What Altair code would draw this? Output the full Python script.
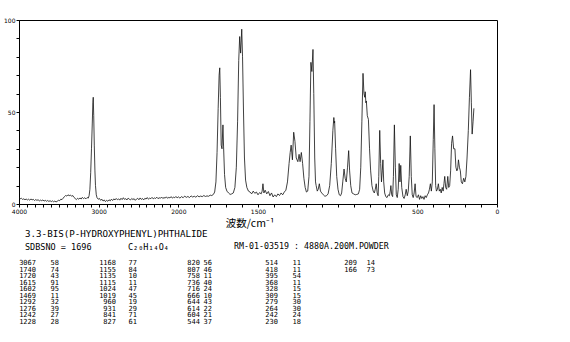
import altair as alt
import pandas as pd

# ---------------- data ----------------
wavenumber = [
    4000, 3985, 3970, 3955, 3940, 3925, 3910, 3895, 3880, 3865, 3850, 3835, 3820, 3805, 3790, 3775,
    3760, 3745, 3730, 3715, 3700, 3685, 3670, 3655, 3640, 3625, 3610, 3595, 3580, 3565, 3550, 3535,
    3520, 3505, 3490, 3475, 3460, 3445, 3430, 3415, 3400, 3385, 3370, 3355, 3340, 3325, 3310, 3295,
    3280, 3265, 3250, 3235, 3220, 3205, 3190, 3175, 3160, 3145, 3130, 3120, 3110, 3100, 3090, 3080,
    3073, 3068, 3062, 3055, 3047, 3040, 3030, 3020, 3005, 2990, 2975, 2960, 2945, 2930, 2915, 2900,
    2885, 2870, 2855, 2840, 2825, 2810, 2795, 2780, 2765, 2750, 2735, 2720, 2705, 2690, 2675, 2660,
    2645, 2630, 2615, 2600, 2585, 2570, 2555, 2540, 2525, 2510, 2495, 2480, 2465, 2450, 2435, 2420,
    2405, 2390, 2375, 2360, 2345, 2330, 2315, 2300, 2285, 2270, 2255, 2240, 2225, 2210, 2195, 2180,
    2165, 2150, 2135, 2120, 2105, 2090, 2075, 2060, 2045, 2030, 2015, 2000,
    1990, 1980, 1970, 1960, 1950, 1940, 1930, 1920, 1910, 1900, 1890, 1880, 1870, 1860, 1850, 1840,
    1830, 1820, 1810, 1800, 1790, 1780, 1772, 1764, 1757, 1750, 1744, 1740, 1736, 1731, 1726, 1720,
    1716, 1710, 1703, 1695, 1685, 1675, 1665, 1655, 1645, 1636, 1628, 1621, 1615, 1609, 1602, 1597,
    1591, 1585, 1578, 1570, 1560, 1550, 1540, 1530, 1520, 1510, 1500, 1490, 1480, 1474, 1469, 1463,
    1455, 1445, 1435, 1425, 1415, 1405, 1395, 1385, 1375, 1365, 1355, 1345, 1335, 1325, 1315, 1305,
    1298, 1292, 1284, 1276, 1268, 1260, 1250, 1242, 1236, 1228, 1220, 1212, 1204, 1196, 1188, 1180,
    1174, 1168, 1162, 1155, 1150, 1144, 1139, 1135, 1128, 1122, 1115, 1108, 1100, 1090, 1080, 1070,
    1060, 1050, 1040, 1030, 1024, 1021, 1019, 1013, 1006, 998, 990, 982, 975, 968, 960, 953,
    946, 938, 931, 925, 918, 910, 900, 890, 880, 870, 862, 855, 848, 841, 835, 830,
    827, 823, 820, 814, 807, 800, 793, 785, 777, 770, 764, 758, 752, 746, 742, 736,
    730, 725, 720, 716, 711, 705, 698, 690, 682, 675, 670, 666, 661, 655, 650, 644,
    638, 632, 626, 620, 614, 609, 604, 598, 590, 583, 576, 570, 563, 557, 551, 544,
    538, 532, 526, 520, 514, 508, 500, 493, 486, 479, 472, 465, 458, 451, 444, 437,
    430, 424, 418, 412, 406, 400, 395, 390, 385, 380, 374, 368, 362, 356, 350, 344,
    338, 333, 328, 322, 316, 309, 303, 297, 291, 285, 279, 272, 264, 258, 252, 247,
    242, 236, 230, 224, 217, 209, 202, 195, 188, 180, 173, 166, 161, 156, 150, 145,
]
intensity = [
    3.4, 2.9, 3.1, 2.5, 2.8, 2.3, 2.7, 2.2, 2.6, 2.1, 2.7, 2.3, 2.5, 1.9, 2.4, 2.0,
    2.3, 1.7, 2.1, 1.8, 2.2, 1.6, 2.0, 1.5, 1.9, 1.4, 1.8, 1.3, 1.7, 1.2, 1.6, 1.1,
    1.5, 2.0, 1.8, 2.6, 2.4, 3.2, 4.0, 4.6, 4.3, 5.0, 4.5, 4.9, 4.2, 4.6, 3.6, 3.0,
    2.4, 3.1, 2.6, 3.3, 2.7, 3.6, 2.9, 3.4, 2.8, 3.5, 3.2, 4.5, 8.0, 17.0, 30.0, 44.0,
    55.0, 58.0, 48.0, 32.0, 18.0, 10.0, 5.0, 3.4, 2.6, 3.0, 2.0, 2.6, 1.6, 2.2, 1.3, 2.0,
    1.5, 2.3, 1.7, 2.6, 1.9, 2.8, 2.2, 3.0, 2.3, 2.8, 2.1, 3.1, 2.4, 3.4, 2.5, 2.9,
    2.2, 3.2, 2.6, 2.2, 3.0, 2.4, 2.9, 2.0, 2.7, 3.1, 2.3, 3.3, 2.5, 3.0, 2.2, 3.1,
    2.7, 3.5, 2.6, 3.2, 2.9, 3.6, 2.8, 3.3, 3.0, 3.7, 2.9, 3.4, 3.1, 3.8, 3.0, 3.5,
    3.2, 3.9, 3.1, 3.6, 3.3, 4.0, 3.2, 3.7, 3.4, 4.1, 3.3, 3.9,
    3.2, 4.0, 3.4, 4.3, 3.6, 4.1, 3.5, 4.4, 3.8, 4.2, 3.7, 4.5, 3.9, 4.3, 4.0, 4.6,
    4.1, 4.4, 4.2, 4.8, 4.6, 5.2, 6.5, 12.0, 28.0, 52.0, 70.0, 74.0, 58.0, 32.0, 30.0, 43.0,
    31.0, 16.0, 9.0, 7.0, 6.0, 5.2, 5.5, 6.0, 9.0, 20.0, 45.0, 78.0, 91.0, 82.0, 95.0, 80.0,
    50.0, 25.0, 13.0, 9.0, 7.0, 6.5, 5.5, 7.0, 5.8, 6.5, 5.0, 6.2, 5.5, 7.0, 11.0, 6.0,
    7.5, 5.5, 6.8, 4.5, 6.0, 3.8, 5.0, 4.0, 5.5, 4.6, 6.0, 5.0, 6.5, 7.5, 12.0, 22.0,
    28.0, 32.0, 24.0, 39.0, 34.0, 25.0, 23.0, 27.0, 23.0, 28.0, 22.0, 14.0, 9.0, 6.5, 7.0, 15.0,
    45.0, 77.0, 72.0, 84.0, 60.0, 25.0, 12.0, 10.0, 7.0, 8.0, 11.0, 7.0, 6.0, 5.0, 4.2, 4.5,
    5.5, 10.0, 22.0, 40.0, 47.0, 44.0, 45.0, 30.0, 15.0, 8.0, 5.0, 4.5, 6.0, 12.0, 19.0, 14.0,
    12.0, 20.0, 29.0, 18.0, 10.0, 6.0, 5.5, 5.0, 5.2, 5.5, 8.0, 20.0, 45.0, 71.0, 60.0, 58.0,
    61.0, 55.0, 56.0, 48.0, 46.0, 30.0, 18.0, 10.0, 7.0, 6.0, 8.0, 11.0, 6.0, 4.5, 15.0, 40.0,
    22.0, 12.0, 18.0, 24.0, 12.0, 6.0, 4.0, 3.5, 5.0, 4.5, 7.0, 10.0, 5.0, 4.0, 15.0, 43.0,
    20.0, 5.0, 3.5, 8.0, 22.0, 12.0, 21.0, 9.0, 4.0, 3.0, 5.0, 8.0, 4.5, 7.0, 15.0, 37.0,
    15.0, 5.0, 3.5, 6.0, 11.0, 4.0, 3.5, 5.0, 2.5, 4.5, 3.0, 4.0, 2.5, 4.5, 3.5, 5.0,
    6.0, 8.0, 11.0, 7.0, 12.0, 35.0, 54.0, 30.0, 10.0, 7.0, 8.0, 11.0, 7.0, 8.0, 6.0, 9.0,
    7.0, 11.0, 15.0, 9.0, 8.0, 15.0, 9.0, 10.0, 18.0, 33.0, 37.0, 30.0, 30.0, 20.0, 18.0, 19.0,
    24.0, 20.0, 18.0, 12.0, 11.0, 14.0, 12.0, 15.0, 25.0, 40.0, 58.0, 73.0, 55.0, 38.0, 45.0, 52.0,
]

peak_wn = [
    [3067, 1740, 1720, 1615, 1602, 1469, 1292, 1276, 1242, 1228],
    [1168, 1155, 1135, 1115, 1024, 1019, 960, 931, 841, 827],
    [820, 807, 758, 736, 716, 666, 644, 614, 604, 544],
    [514, 418, 395, 368, 328, 309, 279, 264, 242, 230],
    [209, 166],
]
peak_int = [
    [58, 74, 43, 91, 95, 11, 32, 39, 27, 28],
    [77, 84, 10, 11, 47, 45, 19, 29, 71, 61],
    [56, 46, 11, 40, 24, 10, 43, 22, 21, 37],
    [11, 11, 54, 11, 15, 15, 30, 30, 24, 18],
    [14, 73],
]

x_minor = list(range(4000, -1, -100))
x_major = [4000, 3000, 2000, 1500, 500, 0]
y_ticks = [0, 10, 20, 30, 40, 50, 60, 70, 80, 90, 100]
y_major = [0, 50, 100]

compound = "3.3-BIS(P-HYDROXYPHENYL)PHTHALIDE"
sdbs_no = "SDBSNO = 1696"
formula = "C₂₀H₁₄O₄"
sample = "RM-01-03519 : 4880A.200M.POWDER"
x_title = "波数/cm⁻¹"

# ---------------- layout ----------------
W, H = 478, 184
LEFT, TOP = 19, 20
MONO = "DejaVu Sans Mono"

spec = pd.DataFrame({"wn": wavenumber, "I": intensity})

xs = alt.Scale(domain=[4000, 2000, 0], range=[0, W / 3, W], zero=False, nice=False)
ys = alt.Scale(domain=[0, 100], zero=False, nice=False)

x_expr = "indexof([" + ",".join(str(v) for v in x_major) + "], datum.value) >= 0 ? '' + datum.value : ''"
y_expr = "indexof([" + ",".join(str(v) for v in y_major) + "], datum.value) >= 0 ? '' + datum.value : ''"

line = alt.Chart(spec).mark_line(color="#111111", strokeWidth=0.8, interpolate="linear").encode(
    x=alt.X("wn:Q", scale=xs, sort=None,
            axis=alt.Axis(values=x_minor, labelExpr=x_expr, title=None, grid=False,
                          tickSize=3, tickColor="black", domainColor="black", labelFont="DejaVu Sans",
                          labelFontSize=6, labelColor="black", labelPadding=1, labelOverlap=False,
                          labelFlush=False)),
    y=alt.Y("I:Q", scale=ys,
            axis=alt.Axis(values=y_ticks, labelExpr=y_expr, title=None, grid=False,
                          tickSize=3, tickColor="black", domainColor="black", labelFont="DejaVu Sans",
                          labelFontSize=6, labelColor="black", labelPadding=1)),
    order=alt.Order("idx:Q"),
).transform_window(idx="row_number()")


def label(txt, x, y, size, font=MONO, align="left"):
    return alt.Chart(pd.DataFrame({"t": [txt]})).mark_text(
        align=align, baseline="middle", font=font, fontSize=size, color="black"
    ).encode(x=alt.value(x - LEFT), y=alt.value(y - TOP), text="t:N")


# peak table
wn_right = [36, 116, 200, 278, 357]
int_right = [59, 137, 212, 301, 375]
row0, dy = 263, 6.5
rows = []
for c, (wl, il) in enumerate(zip(peak_wn, peak_int)):
    for r, (w, i) in enumerate(zip(wl, il)):
        rows.append({"t": str(w), "px": wn_right[c] - LEFT, "py": row0 + r * dy - TOP})
        rows.append({"t": str(i), "px": int_right[c] - LEFT, "py": row0 + r * dy - TOP})
table = alt.Chart(pd.DataFrame(rows)).mark_text(
    align="right", baseline="middle", font=MONO, fontSize=7, color="black"
).encode(
    x=alt.X("px:Q", scale=None, axis=None),
    y=alt.Y("py:Q", scale=None, axis=None),
    text="t:N",
)

chart = alt.layer(
    line,
    label(x_title, 250, 224, 10.5, font="Noto Sans CJK JP", align="center"),
    label(compound, 25, 234, 9.2),
    label(sdbs_no, 25, 247, 8.5),
    label(formula, 128, 247, 8.5),
    label(sample, 234, 247, 8.3),
    table,
).resolve_scale(x="independent", y="independent").properties(
    width=W, height=H,
    autosize=alt.AutoSizeParams(type="none"),
    padding={"left": LEFT, "top": TOP, "right": 570 - LEFT - W, "bottom": 342 - TOP - H},
    background="white",
).configure_view(stroke="black", strokeWidth=1)

chart.save("out.html", embed_options={"renderer": "svg", "actions": False})
